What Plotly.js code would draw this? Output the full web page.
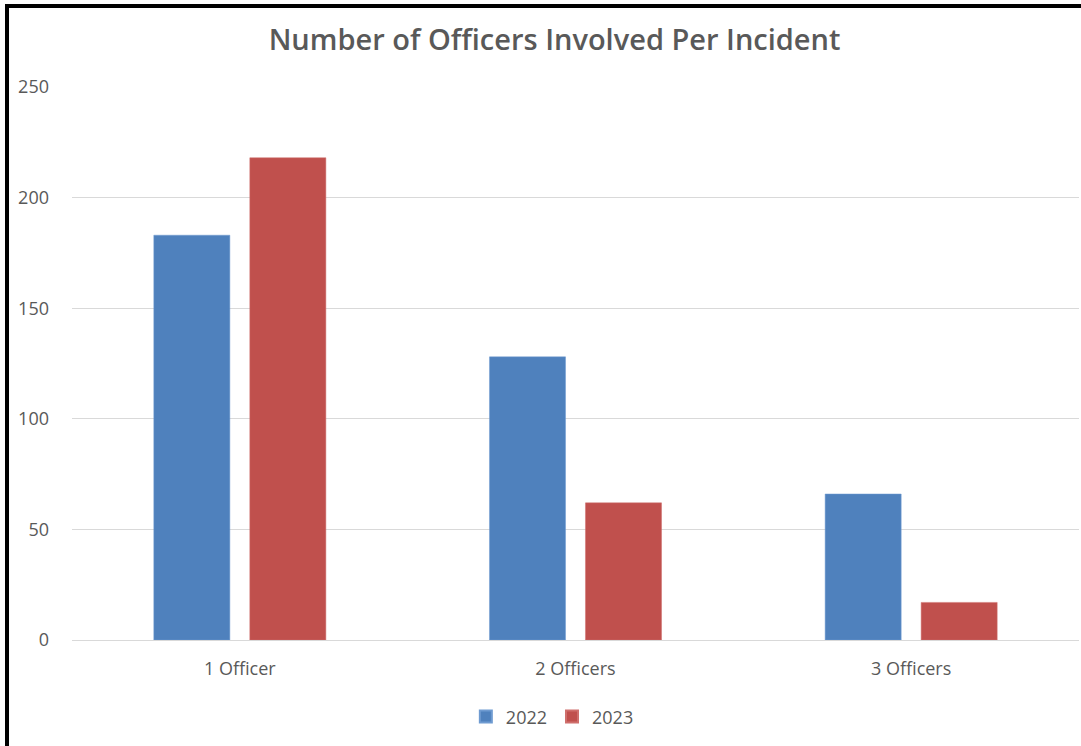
<!DOCTYPE html>
<html>
<head>
<meta charset="utf-8">
<script src="https://cdn.plot.ly/plotly-3.0.1.min.js"></script>
<style>
  html, body { margin: 0; padding: 0; background: #ffffff; }
  #wrap { position: relative; width: 1081px; height: 746px; overflow: hidden; }
  #chart { position: absolute; left: 0; top: 0; width: 1081px; height: 746px; }
  #frame { position: absolute; left: 5px; top: 4px; width: 1100px; height: 800px;
           border-left: 4px solid #000; border-top: 4px solid #000; pointer-events: none; }
</style>
</head>
<body>
<div id="wrap">
  <div id="chart"></div>
  <div id="frame"></div>
</div>
<script>
const categories = ["1 Officer", "2 Officers", "3 Officers"];
const series2022 = [183, 128, 66];
const series2023 = [218, 62, 17];
const seriesNames = ["2022", "2023"];
const yTicks = [0, 50, 100, 150, 200, 250];

const fontFamily = "'Open Sans', 'Noto Sans', sans-serif";

const traces = [
  {
    type: "bar", name: seriesNames[0], x: categories, y: series2022,
    marker: { color: "#4f81bd", line: { color: "#6f9bd1", width: 0.5 } },
    hoverinfo: "x+y+name"
  },
  {
    type: "bar", name: seriesNames[1], x: categories, y: series2023,
    marker: { color: "#c0504d", line: { color: "#cf6f6c", width: 0.5 } },
    hoverinfo: "x+y+name"
  }
];

const layout = {
  width: 1081, height: 746,
  paper_bgcolor: "#ffffff", plot_bgcolor: "#ffffff",
  margin: { l: 72, r: 2, t: 87, b: 106, pad: 0 },
  barmode: "group",
  bargap: 0.428,
  bargroupgap: 0.208,
  title: {
    text: "Number of Officers Involved Per Incident",
    font: { family: fontFamily, size: 29, color: "#595959", weight: 600 },
    x: 0.513, xanchor: "center", xref: "container",
    y: 1 - 40 / 746, yanchor: "middle", yref: "container"
  },
  font: { family: fontFamily, color: "#595959", size: 18 },
  xaxis: {
    type: "category",
    showgrid: false, zeroline: false,
    showline: false, ticks: "",
    ticklabelstandoff: 16,
    tickfont: { family: fontFamily, size: 18, color: "#595959" }
  },
  yaxis: {
    range: [0, 250],
    tickvals: yTicks,
    ticktext: yTicks.map(String),
    showgrid: true, gridcolor: "#d9d9d9", gridwidth: 1,
    zeroline: true, zerolinecolor: "#d9d9d9", zerolinewidth: 1,
    showline: false, ticks: "",
    ticklabelstandoff: 22,
    tickfont: { family: fontFamily, size: 18, color: "#595959" }
  },
  showlegend: true,
  legend: {
    orientation: "h",
    x: 0.477, xanchor: "center",
    y: -0.139, yanchor: "middle",
    font: { family: fontFamily, size: 18, color: "#595959" },
    itemwidth: 30,
    itemsizing: "constant",
    traceorder: "normal"
  }
};

Plotly.newPlot("chart", traces, layout, { displayModeBar: false, staticPlot: true });
</script>
</body>
</html>
